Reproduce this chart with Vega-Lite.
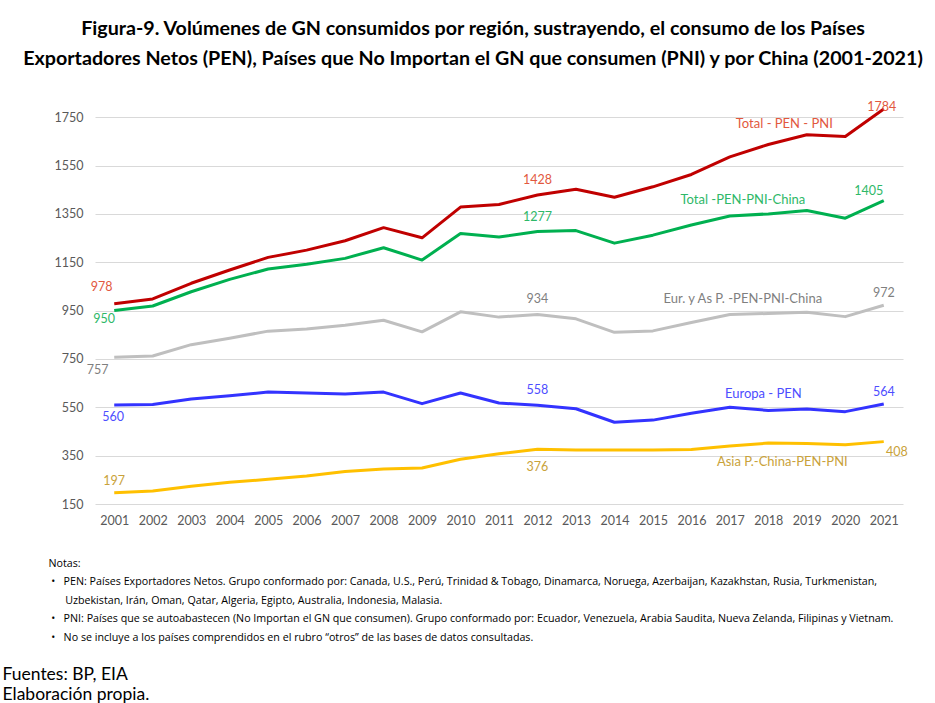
{
  "$schema": "https://vega.github.io/schema/vega-lite/v6.json",
  "width": 808,
  "height": 411,
  "autosize": "none",
  "padding": {"left": 95, "top": 93, "right": 32, "bottom": 199},
  "background": "white",
  "title": {
    "text": ["Figura-9. Volúmenes de GN consumidos por región, sustrayendo, el consumo de los Países", "Exportadores Netos (PEN), Países que No Importan el GN que consumen (PNI) y por China (2001-2021)"],
    "font": "Lato", "fontSize": 19.7, "fontWeight": "bold", "color": "#000000",
    "anchor": "middle", "dx": -26, "offset": 24, "lineHeight": 30
  },
  "config": {"view": {"stroke": null}},
  "data": {"values": [
    {"year": 2001, "s": "Total - PEN - PNI", "value": 978},
    {"year": 2002, "s": "Total - PEN - PNI", "value": 998},
    {"year": 2003, "s": "Total - PEN - PNI", "value": 1063},
    {"year": 2004, "s": "Total - PEN - PNI", "value": 1118},
    {"year": 2005, "s": "Total - PEN - PNI", "value": 1170},
    {"year": 2006, "s": "Total - PEN - PNI", "value": 1200},
    {"year": 2007, "s": "Total - PEN - PNI", "value": 1239},
    {"year": 2008, "s": "Total - PEN - PNI", "value": 1293},
    {"year": 2009, "s": "Total - PEN - PNI", "value": 1251},
    {"year": 2010, "s": "Total - PEN - PNI", "value": 1378},
    {"year": 2011, "s": "Total - PEN - PNI", "value": 1389},
    {"year": 2012, "s": "Total - PEN - PNI", "value": 1428},
    {"year": 2013, "s": "Total - PEN - PNI", "value": 1452},
    {"year": 2014, "s": "Total - PEN - PNI", "value": 1419},
    {"year": 2015, "s": "Total - PEN - PNI", "value": 1462},
    {"year": 2016, "s": "Total - PEN - PNI", "value": 1513},
    {"year": 2017, "s": "Total - PEN - PNI", "value": 1586},
    {"year": 2018, "s": "Total - PEN - PNI", "value": 1637},
    {"year": 2019, "s": "Total - PEN - PNI", "value": 1677},
    {"year": 2020, "s": "Total - PEN - PNI", "value": 1670},
    {"year": 2021, "s": "Total - PEN - PNI", "value": 1784},
    {"year": 2001, "s": "Total -PEN-PNI-China", "value": 950},
    {"year": 2002, "s": "Total -PEN-PNI-China", "value": 969},
    {"year": 2003, "s": "Total -PEN-PNI-China", "value": 1028},
    {"year": 2004, "s": "Total -PEN-PNI-China", "value": 1079},
    {"year": 2005, "s": "Total -PEN-PNI-China", "value": 1122},
    {"year": 2006, "s": "Total -PEN-PNI-China", "value": 1142},
    {"year": 2007, "s": "Total -PEN-PNI-China", "value": 1166},
    {"year": 2008, "s": "Total -PEN-PNI-China", "value": 1210},
    {"year": 2009, "s": "Total -PEN-PNI-China", "value": 1159},
    {"year": 2010, "s": "Total -PEN-PNI-China", "value": 1269},
    {"year": 2011, "s": "Total -PEN-PNI-China", "value": 1254},
    {"year": 2012, "s": "Total -PEN-PNI-China", "value": 1277},
    {"year": 2013, "s": "Total -PEN-PNI-China", "value": 1281},
    {"year": 2014, "s": "Total -PEN-PNI-China", "value": 1229},
    {"year": 2015, "s": "Total -PEN-PNI-China", "value": 1262},
    {"year": 2016, "s": "Total -PEN-PNI-China", "value": 1304},
    {"year": 2017, "s": "Total -PEN-PNI-China", "value": 1341},
    {"year": 2018, "s": "Total -PEN-PNI-China", "value": 1350},
    {"year": 2019, "s": "Total -PEN-PNI-China", "value": 1364},
    {"year": 2020, "s": "Total -PEN-PNI-China", "value": 1332},
    {"year": 2021, "s": "Total -PEN-PNI-China", "value": 1405},
    {"year": 2001, "s": "Eur. y As P. -PEN-PNI-China", "value": 757},
    {"year": 2002, "s": "Eur. y As P. -PEN-PNI-China", "value": 762},
    {"year": 2003, "s": "Eur. y As P. -PEN-PNI-China", "value": 809},
    {"year": 2004, "s": "Eur. y As P. -PEN-PNI-China", "value": 836},
    {"year": 2005, "s": "Eur. y As P. -PEN-PNI-China", "value": 865},
    {"year": 2006, "s": "Eur. y As P. -PEN-PNI-China", "value": 874},
    {"year": 2007, "s": "Eur. y As P. -PEN-PNI-China", "value": 889},
    {"year": 2008, "s": "Eur. y As P. -PEN-PNI-China", "value": 910},
    {"year": 2009, "s": "Eur. y As P. -PEN-PNI-China", "value": 862},
    {"year": 2010, "s": "Eur. y As P. -PEN-PNI-China", "value": 945},
    {"year": 2011, "s": "Eur. y As P. -PEN-PNI-China", "value": 923},
    {"year": 2012, "s": "Eur. y As P. -PEN-PNI-China", "value": 934},
    {"year": 2013, "s": "Eur. y As P. -PEN-PNI-China", "value": 916},
    {"year": 2014, "s": "Eur. y As P. -PEN-PNI-China", "value": 860},
    {"year": 2015, "s": "Eur. y As P. -PEN-PNI-China", "value": 866},
    {"year": 2016, "s": "Eur. y As P. -PEN-PNI-China", "value": 901},
    {"year": 2017, "s": "Eur. y As P. -PEN-PNI-China", "value": 934},
    {"year": 2018, "s": "Eur. y As P. -PEN-PNI-China", "value": 938},
    {"year": 2019, "s": "Eur. y As P. -PEN-PNI-China", "value": 943},
    {"year": 2020, "s": "Eur. y As P. -PEN-PNI-China", "value": 925},
    {"year": 2021, "s": "Eur. y As P. -PEN-PNI-China", "value": 972},
    {"year": 2001, "s": "Europa - PEN", "value": 560},
    {"year": 2002, "s": "Europa - PEN", "value": 562},
    {"year": 2003, "s": "Europa - PEN", "value": 584},
    {"year": 2004, "s": "Europa - PEN", "value": 598},
    {"year": 2005, "s": "Europa - PEN", "value": 613},
    {"year": 2006, "s": "Europa - PEN", "value": 609},
    {"year": 2007, "s": "Europa - PEN", "value": 605},
    {"year": 2008, "s": "Europa - PEN", "value": 613},
    {"year": 2009, "s": "Europa - PEN", "value": 565},
    {"year": 2010, "s": "Europa - PEN", "value": 609},
    {"year": 2011, "s": "Europa - PEN", "value": 568},
    {"year": 2012, "s": "Europa - PEN", "value": 558},
    {"year": 2013, "s": "Europa - PEN", "value": 544},
    {"year": 2014, "s": "Europa - PEN", "value": 488},
    {"year": 2015, "s": "Europa - PEN", "value": 497},
    {"year": 2016, "s": "Europa - PEN", "value": 525},
    {"year": 2017, "s": "Europa - PEN", "value": 550},
    {"year": 2018, "s": "Europa - PEN", "value": 537},
    {"year": 2019, "s": "Europa - PEN", "value": 543},
    {"year": 2020, "s": "Europa - PEN", "value": 532},
    {"year": 2021, "s": "Europa - PEN", "value": 564},
    {"year": 2001, "s": "Asia P.-China-PEN-PNI", "value": 197},
    {"year": 2002, "s": "Asia P.-China-PEN-PNI", "value": 204},
    {"year": 2003, "s": "Asia P.-China-PEN-PNI", "value": 223},
    {"year": 2004, "s": "Asia P.-China-PEN-PNI", "value": 240},
    {"year": 2005, "s": "Asia P.-China-PEN-PNI", "value": 252},
    {"year": 2006, "s": "Asia P.-China-PEN-PNI", "value": 266},
    {"year": 2007, "s": "Asia P.-China-PEN-PNI", "value": 284},
    {"year": 2008, "s": "Asia P.-China-PEN-PNI", "value": 295},
    {"year": 2009, "s": "Asia P.-China-PEN-PNI", "value": 299},
    {"year": 2010, "s": "Asia P.-China-PEN-PNI", "value": 335},
    {"year": 2011, "s": "Asia P.-China-PEN-PNI", "value": 358},
    {"year": 2012, "s": "Asia P.-China-PEN-PNI", "value": 376},
    {"year": 2013, "s": "Asia P.-China-PEN-PNI", "value": 373},
    {"year": 2014, "s": "Asia P.-China-PEN-PNI", "value": 373},
    {"year": 2015, "s": "Asia P.-China-PEN-PNI", "value": 373},
    {"year": 2016, "s": "Asia P.-China-PEN-PNI", "value": 375},
    {"year": 2017, "s": "Asia P.-China-PEN-PNI", "value": 390},
    {"year": 2018, "s": "Asia P.-China-PEN-PNI", "value": 402},
    {"year": 2019, "s": "Asia P.-China-PEN-PNI", "value": 400},
    {"year": 2020, "s": "Asia P.-China-PEN-PNI", "value": 395},
    {"year": 2021, "s": "Asia P.-China-PEN-PNI", "value": 408}
  ]},
  "encoding": {
    "x": {
      "field": "year", "type": "ordinal",
      "scale": {"type": "point", "padding": 0.5},
      "axis": {
        "labelAngle": 0, "labelFont": "Lato", "labelFontSize": 12.5, "labelColor": "#595959", "labelPadding": 10,
        "domain": false, "ticks": false, "grid": false,
        "title": ["Notas:", "\u200b\u00a0•\u00a0\u00a0\u00a0PEN: Países Exportadores Netos. Grupo conformado por: Canada, U.S., Perú, Trinidad & Tobago, Dinamarca, Noruega, Azerbaijan, Kazakhstan, Rusia, Turkmenistan,", "\u200b\u00a0\u00a0\u00a0\u00a0\u00a0\u00a0Uzbekistan, Irán, Oman, Qatar, Algeria, Egipto, Australia, Indonesia, Malasia.", "\u200b\u00a0•\u00a0\u00a0\u00a0PNI: Países que se autoabastecen (No Importan el GN que consumen). Grupo conformado por: Ecuador, Venezuela, Arabia Saudita, Nueva Zelanda, Filipinas y Vietnam.", "\u200b\u00a0•\u00a0\u00a0\u00a0No se incluye a los países comprendidos en el rubro “otros” de las bases de datos consultadas."],
        "titleFont": "Open Sans", "titleFontSize": 10.7, "titleFontWeight": "normal", "titleColor": "#000000",
        "titleAlign": "left", "titleBaseline": "top", "titleX": -47, "titleY": 54, "titleLineHeight": 18.5
      }
    },
    "y": {
      "field": "value", "type": "quantitative",
      "scale": {"domain": [150, 1850], "nice": false, "zero": false},
      "axis": {
        "values": [150, 350, 550, 750, 950, 1150, 1350, 1550, 1750], "format": "d",
        "labelFont": "Lato", "labelFontSize": 12.5, "labelColor": "#595959", "labelPadding": 12,
        "domain": false, "ticks": false, "grid": true, "gridColor": "#D9D9D9", "gridWidth": 1,
        "title": ["Fuentes: BP, EIA", "Elaboración propia."],
        "titleAngle": 0, "titleAlign": "left", "titleBaseline": "alphabetic", "titleX": -93, "titleY": 586,
        "titleFont": "Lato", "titleFontSize": 17.5, "titleFontWeight": "normal", "titleColor": "#000000", "titleLineHeight": 20
      }
    }
  },
  "layer": [
    {
      "mark": {"type": "line", "strokeWidth": 3, "strokeJoin": "round"},
      "encoding": {
        "color": {"field": "s", "type": "nominal", "legend": null,
          "scale": {"domain": ["Total - PEN - PNI", "Total -PEN-PNI-China", "Eur. y As P. -PEN-PNI-China", "Europa - PEN", "Asia P.-China-PEN-PNI"],
                    "range": ["#C00000", "#00B050", "#BFBFBF", "#3333FF", "#FFC000"]}}
      }
    },
    {
      "transform": [{"filter": "datum.year == 2012 && datum.s != 'Asia P.-China-PEN-PNI'"}],
      "mark": {"type": "text", "font": "Lato", "fontSize": 12.5, "baseline": "middle", "align": "center", "dy": -15},
      "encoding": {"text": {"field": "value"}, "fill": {"field": "s", "type": "nominal", "legend": null, "scale": {"domain": ["Total - PEN - PNI", "Total -PEN-PNI-China", "Eur. y As P. -PEN-PNI-China", "Europa - PEN", "Asia P.-China-PEN-PNI"], "range": ["#E2583E", "#2EB868", "#7F7F7F", "#4D4DFF", "#C9A23A"]}}}
    },
    {
      "transform": [{"filter": "(datum.year == 2021 && (datum.s == 'Eur. y As P. -PEN-PNI-China' || datum.s == 'Europa - PEN')) || (datum.year == 2001 && datum.s == 'Asia P.-China-PEN-PNI')"}],
      "mark": {"type": "text", "font": "Lato", "fontSize": 12.5, "baseline": "middle", "align": "center", "dy": -12},
      "encoding": {"text": {"field": "value"}, "fill": {"field": "s", "type": "nominal", "legend": null}}
    },
    {
      "transform": [{"filter": "datum.year == 2021 && datum.s == 'Total -PEN-PNI-China'"}],
      "mark": {"type": "text", "font": "Lato", "fontSize": 12.5, "baseline": "middle", "align": "center", "dx": -15, "dy": -10},
      "encoding": {"text": {"field": "value"}, "fill": {"field": "s", "type": "nominal", "legend": null}}
    },
    {
      "transform": [{"filter": "datum.year == 2021 && datum.s == 'Total - PEN - PNI'"}],
      "mark": {"type": "text", "font": "Lato", "fontSize": 12.5, "baseline": "middle", "align": "center", "dx": -2, "dy": -2},
      "encoding": {"text": {"field": "value"}, "fill": {"field": "s", "type": "nominal", "legend": null}}
    },
    {
      "transform": [{"filter": "datum.year == 2001 && datum.s == 'Total - PEN - PNI'"}],
      "mark": {"type": "text", "font": "Lato", "fontSize": 12.5, "baseline": "middle", "align": "center", "dx": -12.5, "dy": -17},
      "encoding": {"text": {"field": "value"}, "fill": {"field": "s", "type": "nominal", "legend": null}}
    },
    {
      "transform": [{"filter": "datum.year == 2001 && datum.s == 'Total -PEN-PNI-China'"}],
      "mark": {"type": "text", "font": "Lato", "fontSize": 12.5, "baseline": "middle", "align": "center", "dx": -10, "dy": 8},
      "encoding": {"text": {"field": "value"}, "fill": {"field": "s", "type": "nominal", "legend": null}}
    },
    {
      "transform": [{"filter": "datum.year == 2001 && datum.s == 'Eur. y As P. -PEN-PNI-China'"}],
      "mark": {"type": "text", "font": "Lato", "fontSize": 12.5, "baseline": "middle", "align": "center", "dx": -16.5, "dy": 13},
      "encoding": {"text": {"field": "value"}, "fill": {"field": "s", "type": "nominal", "legend": null}}
    },
    {
      "transform": [{"filter": "datum.year == 2001 && datum.s == 'Europa - PEN'"}],
      "mark": {"type": "text", "font": "Lato", "fontSize": 12.5, "baseline": "middle", "align": "center", "dx": -1, "dy": 12.5},
      "encoding": {"text": {"field": "value"}, "fill": {"field": "s", "type": "nominal", "legend": null}}
    },
    {
      "transform": [{"filter": "datum.year == 2012 && datum.s == 'Asia P.-China-PEN-PNI'"}],
      "mark": {"type": "text", "font": "Lato", "fontSize": 12.5, "baseline": "middle", "align": "center", "dy": 18},
      "encoding": {"text": {"field": "value"}, "fill": {"field": "s", "type": "nominal", "legend": null}}
    },
    {
      "transform": [{"filter": "datum.year == 2021 && datum.s == 'Asia P.-China-PEN-PNI'"}],
      "mark": {"type": "text", "font": "Lato", "fontSize": 12.5, "baseline": "middle", "align": "center", "dx": 13, "dy": 10},
      "encoding": {"text": {"field": "value"}, "fill": {"field": "s", "type": "nominal", "legend": null}}
    },
    {
      "transform": [{"filter": "datum.year == 2018 && datum.s == 'Total - PEN - PNI'"}],
      "mark": {"type": "text", "font": "Lato", "fontSize": 13, "baseline": "middle", "align": "center", "dx": 16, "dy": -20},
      "encoding": {"text": {"field": "s"}, "fill": {"field": "s", "type": "nominal", "legend": null}}
    },
    {
      "transform": [{"filter": "datum.year == 2017 && datum.s == 'Total -PEN-PNI-China'"}],
      "mark": {"type": "text", "font": "Lato", "fontSize": 13, "baseline": "middle", "align": "center", "dx": 13, "dy": -16},
      "encoding": {"text": {"field": "s"}, "fill": {"field": "s", "type": "nominal", "legend": null}}
    },
    {
      "transform": [{"filter": "datum.year == 2017 && datum.s == 'Eur. y As P. -PEN-PNI-China'"}],
      "mark": {"type": "text", "font": "Lato", "fontSize": 13, "baseline": "middle", "align": "center", "dx": 13, "dy": -15},
      "encoding": {"text": {"field": "s"}, "fill": {"field": "s", "type": "nominal", "legend": null}}
    },
    {
      "transform": [{"filter": "datum.year == 2018 && datum.s == 'Europa - PEN'"}],
      "mark": {"type": "text", "font": "Lato", "fontSize": 13, "baseline": "middle", "align": "center", "dx": -5, "dy": -16},
      "encoding": {"text": {"field": "s"}, "fill": {"field": "s", "type": "nominal", "legend": null}}
    },
    {
      "transform": [{"filter": "datum.year == 2018 && datum.s == 'Asia P.-China-PEN-PNI'"}],
      "mark": {"type": "text", "font": "Lato", "fontSize": 13, "baseline": "middle", "align": "center", "dx": 14, "dy": 19},
      "encoding": {"text": {"field": "s"}, "fill": {"field": "s", "type": "nominal", "legend": null}}
    }
  ]
}
